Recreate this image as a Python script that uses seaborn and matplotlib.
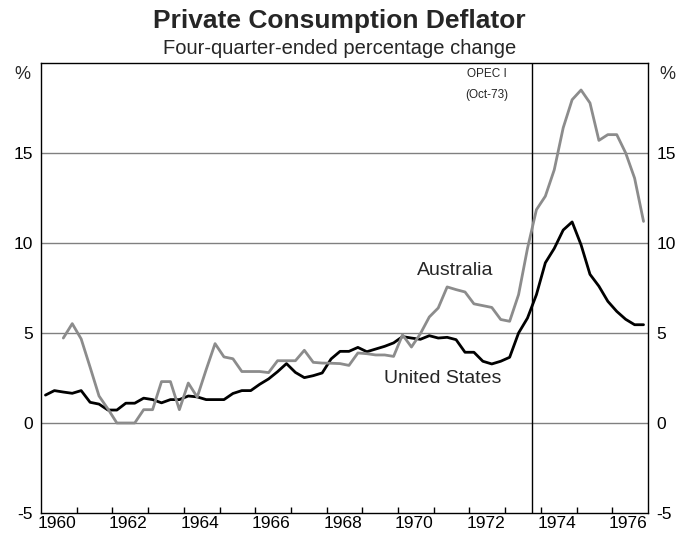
import numpy as np
import pandas as pd
import matplotlib
matplotlib.use("Agg")
import matplotlib.pyplot as plt
import seaborn as sns

# ---- data (four-quarter-ended % change) ----
us_start = "1960Q1"
au_start = "1960Q3"
us_values = [
    1.55, 1.80, 1.72, 1.65,
    1.80, 1.15, 1.05, 0.72,
    0.72, 1.10, 1.10, 1.38,
    1.30, 1.12, 1.30, 1.30,
    1.50, 1.45, 1.30, 1.30,
    1.30, 1.64, 1.80, 1.80,
    2.15, 2.45, 2.85, 3.30,
    2.81, 2.52, 2.63, 2.78,
    3.56, 3.98, 3.98, 4.20,
    3.96, 4.11, 4.26, 4.45,
    4.80, 4.72, 4.65, 4.85,
    4.72, 4.76, 4.63, 3.93,
    3.93, 3.43, 3.28, 3.43,
    3.65, 5.00, 5.83, 7.13,
    8.90, 9.70, 10.72, 11.17,
    9.90, 8.26, 7.60, 6.76,
    6.20, 5.76, 5.46, 5.46,
]
au_values = [
    4.72, 5.52,
    4.67, 3.10, 1.50, 0.78,
    0.00, 0.00, 0.00, 0.74,
    0.74, 2.30, 2.30, 0.74,
    2.22, 1.44, 2.96, 4.41,
    3.67, 3.57, 2.86, 2.86,
    2.86, 2.80, 3.46, 3.46,
    3.46, 4.04, 3.37, 3.33,
    3.32, 3.30, 3.20, 3.89,
    3.85, 3.78, 3.78, 3.70,
    4.90, 4.22, 4.96, 5.89,
    6.39, 7.56, 7.41, 7.28,
    6.62, 6.52, 6.42, 5.75,
    5.65, 7.13, 9.70, 11.85,
    12.60, 14.07, 16.40, 17.96,
    18.50, 17.78, 15.70, 16.02,
    16.02, 15.00, 13.60, 11.20,
]
opec_date = 1973.75
opec_label = "OPEC I\n(Oct-73)"
x_label_years = [1960, 1962, 1964, 1966, 1968, 1970, 1972, 1974, 1976]
y_ticks = [-5, 0, 5, 10, 15]


def quarter_x(start, n):
    p = pd.period_range(start, periods=n, freq="Q")
    return np.asarray(p.year + (p.quarter - 1) / 4 + 0.125, dtype=float)


df = pd.concat([
    pd.DataFrame({"x": quarter_x(us_start, len(us_values)), "value": us_values,
                  "series": "United States"}),
    pd.DataFrame({"x": quarter_x(au_start, len(au_values)), "value": au_values,
                  "series": "Australia"}),
])

sns.set_style("white")
plt.rcParams["font.family"] = ["Liberation Sans", "DejaVu Sans"]

fig = plt.figure(figsize=(6.79, 5.34), dpi=100)
ax = fig.add_axes([41 / 679, 1 - 513 / 534, 607 / 679, 450 / 534])

grid_c = "#808080"
for v in [0, 5, 10, 15]:
    ax.axhline(v, color=grid_c, lw=1.0, zorder=1)

sns.lineplot(data=df, x="x", y="value", hue="series",
             palette={"United States": "black", "Australia": "#8c8c8c"},
             linewidth=2.0, legend=False, ax=ax, zorder=3)

ax.axvline(opec_date, color="black", lw=1.0, zorder=2)
ax.text(opec_date - 1.27, 19.7, opec_label, ha="center", va="top",
        fontsize=8.5, linespacing=2.0)

ax.text(1971.6, 8.45, "Australia", ha="center", va="center", fontsize=14)
ax.text(1971.25, 2.45, "United States", ha="center", va="center", fontsize=14)

ax.set_xlim(1960, 1977)
ax.set_ylim(-5, 20)
ax.set_xlabel("")
ax.set_ylabel("")

ax.set_xticks(np.arange(1961, 1977), minor=False)
ax.set_xticklabels([])
ax.set_xticks([y + 0.45 for y in x_label_years], minor=True)
ax.set_xticklabels([str(y) for y in x_label_years], minor=True)
ax.tick_params(axis="x", which="major", direction="in", length=4, width=1,
               color="black", bottom=True, top=False)
ax.tick_params(axis="x", which="minor", length=0, labelsize=12.5, pad=2,
               labelcolor="black")

ax.set_yticks(y_ticks)
ax.set_yticklabels([str(v) for v in y_ticks])
ax.tick_params(axis="y", length=0, labelsize=12.5, labelleft=True,
               labelright=True, pad=6, labelcolor="black")

ax.text(-0.018, 0.975, "%", transform=ax.transAxes, ha="right", va="center",
        fontsize=13)
ax.text(1.018, 0.975, "%", transform=ax.transAxes, ha="left", va="center",
        fontsize=13)

for s in ax.spines.values():
    s.set_visible(True)
    s.set_color("black")
    s.set_linewidth(1.0)

fig.text(0.5, 1 - 21 / 534, "Private Consumption Deflator", ha="center",
         va="center", fontsize=19, fontweight="bold")
fig.text(0.5, 1 - 48 / 534, "Four-quarter-ended percentage change",
         ha="center", va="center", fontsize=14.5)

fig.savefig("out.png", dpi=100)
